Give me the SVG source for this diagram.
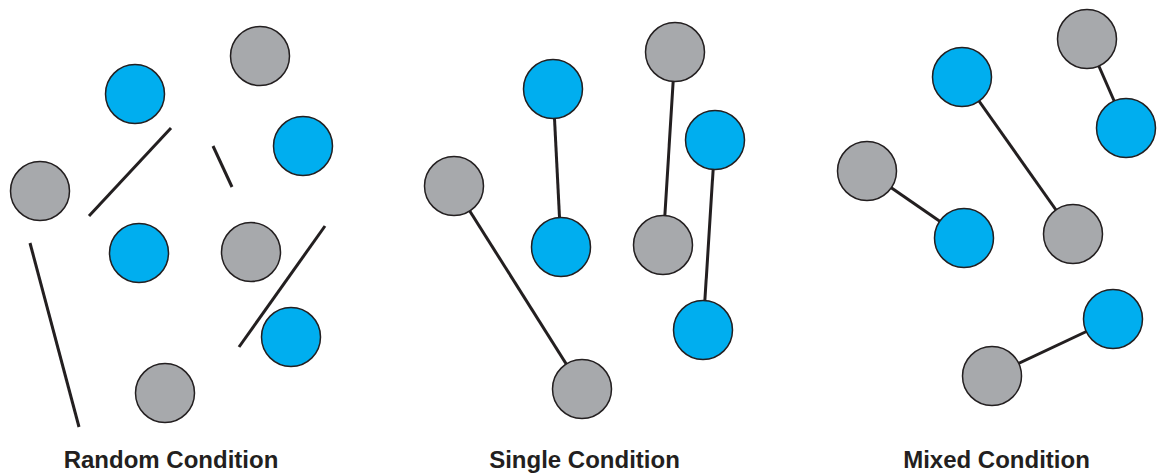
<svg xmlns="http://www.w3.org/2000/svg" width="1157" height="474" viewBox="0 0 1157 474">
<style>
.g{fill:#a7a9ac;stroke:#231f20;stroke-width:1.5}
.b{fill:#00aeef;stroke:#231f20;stroke-width:1.5}
.e{stroke:#231f20;stroke-width:3;fill:none}
.t{font-family:"Liberation Sans",Arial,sans-serif;font-weight:bold;font-size:24px;fill:#231f20;text-anchor:middle}
</style>
<rect width="1157" height="474" fill="#ffffff"/>
<g id="connectors">
<line class="e" x1="171" y1="128" x2="89" y2="216"/>
<line class="e" x1="213" y1="146" x2="232" y2="187"/>
<line class="e" x1="325" y1="226" x2="239" y2="347"/>
<line class="e" x1="30" y1="243" x2="79" y2="427"/>
<line class="e" x1="553" y1="89" x2="561" y2="247"/>
<line class="e" x1="675" y1="52" x2="663" y2="245"/>
<line class="e" x1="715" y1="140" x2="703" y2="330"/>
<line class="e" x1="454" y1="186" x2="582" y2="389"/>
<line class="e" x1="1087" y1="39" x2="1126" y2="128"/>
<line class="e" x1="962" y1="77" x2="1073" y2="234"/>
<line class="e" x1="867" y1="171" x2="964" y2="238"/>
<line class="e" x1="992" y1="376" x2="1113" y2="319"/>
</g>
<g id="r1"><circle class="g" cx="260" cy="56" r="29.5"/></g>
<g id="r2"><circle class="b" cx="135" cy="94" r="29.5"/></g>
<g id="r3"><circle class="b" cx="303" cy="146" r="29.5"/></g>
<g id="r4"><circle class="g" cx="40" cy="191" r="29.5"/></g>
<g id="r5"><circle class="b" cx="139" cy="253" r="29.5"/></g>
<g id="r6"><circle class="g" cx="251" cy="252" r="29.5"/></g>
<g id="r7"><circle class="b" cx="291" cy="337" r="29.5"/></g>
<g id="r8"><circle class="g" cx="165" cy="393" r="29.5"/></g>
<g id="s1"><circle class="b" cx="553" cy="89" r="29.5"/></g>
<g id="s2"><circle class="g" cx="675" cy="52" r="29.5"/></g>
<g id="s3"><circle class="b" cx="715" cy="140" r="29.5"/></g>
<g id="s4"><circle class="g" cx="454" cy="186" r="29.5"/></g>
<g id="s5"><circle class="b" cx="561" cy="247" r="29.5"/></g>
<g id="s6"><circle class="g" cx="663" cy="245" r="29.5"/></g>
<g id="s7"><circle class="b" cx="703" cy="330" r="29.5"/></g>
<g id="s8"><circle class="g" cx="582" cy="389" r="29.5"/></g>
<g id="m1"><circle class="g" cx="1087" cy="39" r="29.5"/></g>
<g id="m2"><circle class="b" cx="962" cy="77" r="29.5"/></g>
<g id="m3"><circle class="b" cx="1126" cy="128" r="29.5"/></g>
<g id="m4"><circle class="g" cx="867" cy="171" r="29.5"/></g>
<g id="m5"><circle class="b" cx="964" cy="238" r="29.5"/></g>
<g id="m6"><circle class="g" cx="1073" cy="234" r="29.5"/></g>
<g id="m7"><circle class="b" cx="1113" cy="319" r="29.5"/></g>
<g id="m8"><circle class="g" cx="992" cy="376" r="29.5"/></g>
<g id="labels">
<text class="t" x="171" y="468">Random Condition</text>
<text class="t" x="584.5" y="468">Single Condition</text>
<text class="t" x="996.5" y="468">Mixed Condition</text>
</g>
</svg>
